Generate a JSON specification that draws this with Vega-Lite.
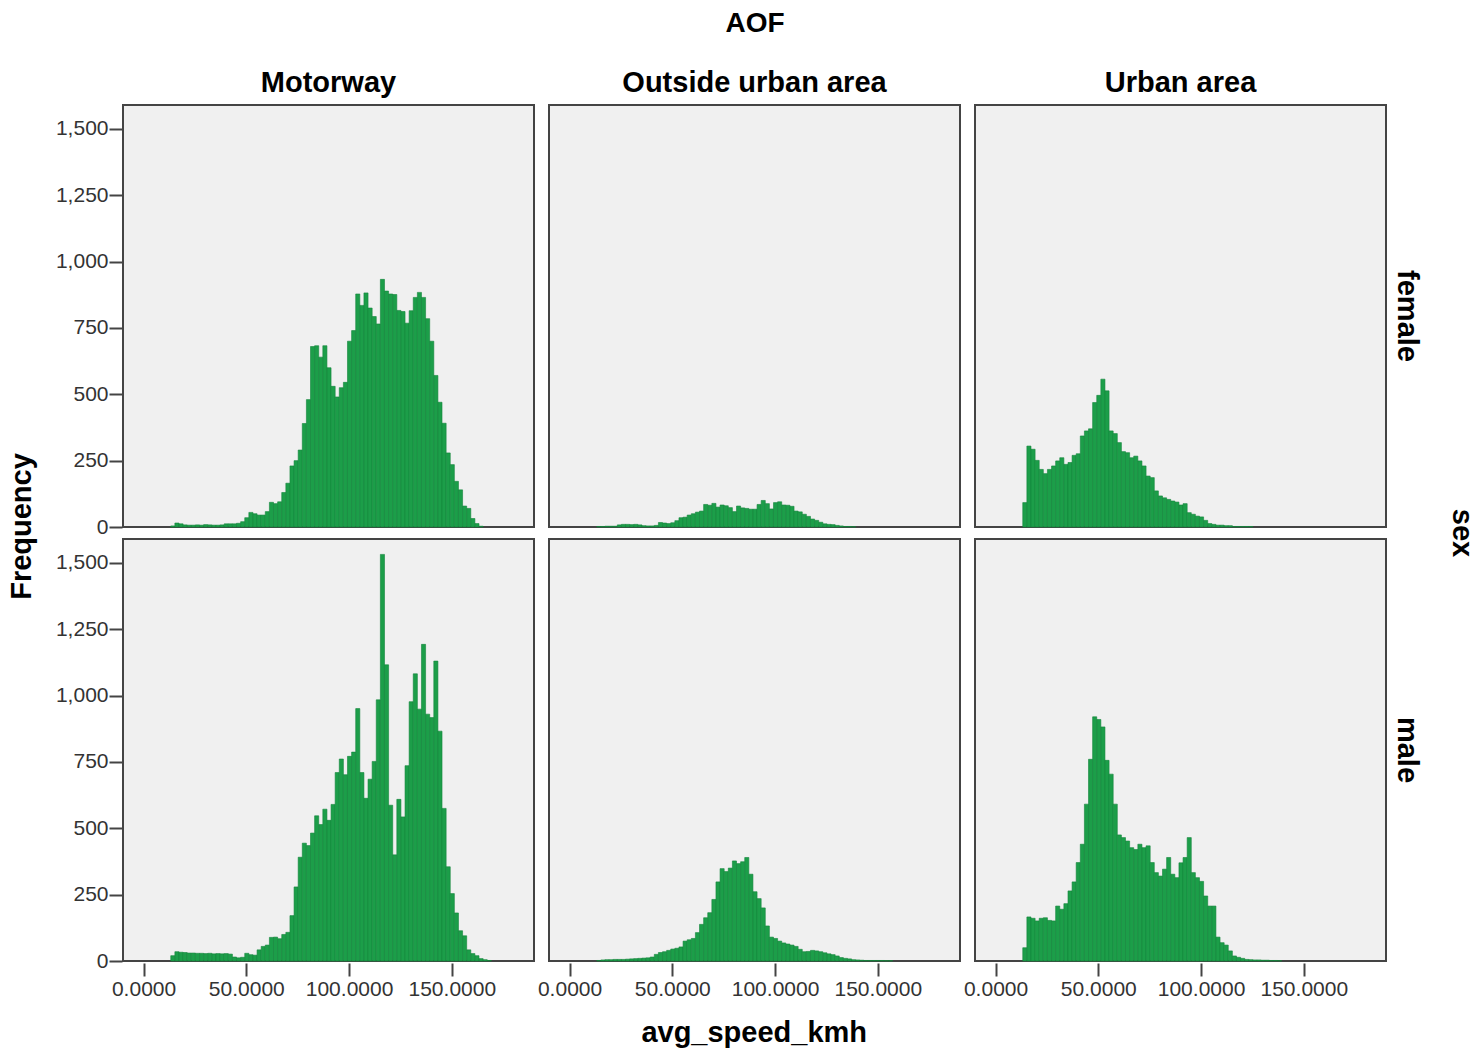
{
"$schema": "https://vega.github.io/schema/vega-lite/v6.json",
"padding": {"left": 8, "top": 10, "right": 0, "bottom": 0},
"title": {"text": "avg_speed_kmh", "orient": "bottom", "anchor": "middle", "fontSize": 29, "fontWeight": "bold", "font": "Liberation Sans", "color": "#000", "offset": 20, "dx": 12},
"vconcat": [{
"title": {"text": "Frequency", "orient": "left", "anchor": "middle", "fontSize": 29, "fontWeight": "bold", "font": "Liberation Sans", "color": "#000", "offset": 18, "dx": -22},
"data": {"values": [
{"AOF":"Motorway","sex":"female","speed":13,"n":4},{"AOF":"Motorway","sex":"female","speed":15,"n":15},{"AOF":"Motorway","sex":"female","speed":17,"n":12},{"AOF":"Motorway","sex":"female","speed":19,"n":8},{"AOF":"Motorway","sex":"female","speed":21,"n":7},{"AOF":"Motorway","sex":"female","speed":23,"n":7},{"AOF":"Motorway","sex":"female","speed":25,"n":8},{"AOF":"Motorway","sex":"female","speed":27,"n":7},{"AOF":"Motorway","sex":"female","speed":29,"n":9},{"AOF":"Motorway","sex":"female","speed":31,"n":8},{"AOF":"Motorway","sex":"female","speed":33,"n":7},{"AOF":"Motorway","sex":"female","speed":35,"n":7},{"AOF":"Motorway","sex":"female","speed":37,"n":8},{"AOF":"Motorway","sex":"female","speed":39,"n":12},{"AOF":"Motorway","sex":"female","speed":41,"n":12},{"AOF":"Motorway","sex":"female","speed":43,"n":12},{"AOF":"Motorway","sex":"female","speed":45,"n":14},{"AOF":"Motorway","sex":"female","speed":47,"n":20},{"AOF":"Motorway","sex":"female","speed":49,"n":35},{"AOF":"Motorway","sex":"female","speed":51,"n":55},{"AOF":"Motorway","sex":"female","speed":53,"n":50},{"AOF":"Motorway","sex":"female","speed":55,"n":45},{"AOF":"Motorway","sex":"female","speed":57,"n":45},{"AOF":"Motorway","sex":"female","speed":59,"n":58},{"AOF":"Motorway","sex":"female","speed":61,"n":93},{"AOF":"Motorway","sex":"female","speed":63,"n":88},{"AOF":"Motorway","sex":"female","speed":65,"n":95},{"AOF":"Motorway","sex":"female","speed":67,"n":130},{"AOF":"Motorway","sex":"female","speed":69,"n":165},{"AOF":"Motorway","sex":"female","speed":71,"n":230},{"AOF":"Motorway","sex":"female","speed":73,"n":250},{"AOF":"Motorway","sex":"female","speed":75,"n":290},{"AOF":"Motorway","sex":"female","speed":77,"n":390},{"AOF":"Motorway","sex":"female","speed":79,"n":480},{"AOF":"Motorway","sex":"female","speed":81,"n":680},{"AOF":"Motorway","sex":"female","speed":83,"n":683},{"AOF":"Motorway","sex":"female","speed":85,"n":640},{"AOF":"Motorway","sex":"female","speed":87,"n":683},{"AOF":"Motorway","sex":"female","speed":89,"n":600},{"AOF":"Motorway","sex":"female","speed":91,"n":530},{"AOF":"Motorway","sex":"female","speed":93,"n":490},{"AOF":"Motorway","sex":"female","speed":95,"n":525},{"AOF":"Motorway","sex":"female","speed":97,"n":545},{"AOF":"Motorway","sex":"female","speed":99,"n":700},{"AOF":"Motorway","sex":"female","speed":101,"n":740},{"AOF":"Motorway","sex":"female","speed":103,"n":878},{"AOF":"Motorway","sex":"female","speed":105,"n":835},{"AOF":"Motorway","sex":"female","speed":107,"n":882},{"AOF":"Motorway","sex":"female","speed":109,"n":825},{"AOF":"Motorway","sex":"female","speed":111,"n":793},{"AOF":"Motorway","sex":"female","speed":113,"n":765},{"AOF":"Motorway","sex":"female","speed":115,"n":933},{"AOF":"Motorway","sex":"female","speed":117,"n":889},{"AOF":"Motorway","sex":"female","speed":119,"n":878},{"AOF":"Motorway","sex":"female","speed":121,"n":876},{"AOF":"Motorway","sex":"female","speed":123,"n":816},{"AOF":"Motorway","sex":"female","speed":125,"n":812},{"AOF":"Motorway","sex":"female","speed":127,"n":768},{"AOF":"Motorway","sex":"female","speed":129,"n":815},{"AOF":"Motorway","sex":"female","speed":131,"n":865},{"AOF":"Motorway","sex":"female","speed":133,"n":884},{"AOF":"Motorway","sex":"female","speed":135,"n":865},{"AOF":"Motorway","sex":"female","speed":137,"n":785},{"AOF":"Motorway","sex":"female","speed":139,"n":700},{"AOF":"Motorway","sex":"female","speed":141,"n":571},{"AOF":"Motorway","sex":"female","speed":143,"n":470},{"AOF":"Motorway","sex":"female","speed":145,"n":391},{"AOF":"Motorway","sex":"female","speed":147,"n":279},{"AOF":"Motorway","sex":"female","speed":149,"n":235},{"AOF":"Motorway","sex":"female","speed":151,"n":172},{"AOF":"Motorway","sex":"female","speed":153,"n":140},{"AOF":"Motorway","sex":"female","speed":155,"n":79},{"AOF":"Motorway","sex":"female","speed":157,"n":70},{"AOF":"Motorway","sex":"female","speed":159,"n":32},{"AOF":"Motorway","sex":"female","speed":161,"n":13},{"AOF":"Motorway","sex":"female","speed":163,"n":3},
{"AOF":"Motorway","sex":"male","speed":13,"n":20},{"AOF":"Motorway","sex":"male","speed":15,"n":35},{"AOF":"Motorway","sex":"male","speed":17,"n":33},{"AOF":"Motorway","sex":"male","speed":19,"n":32},{"AOF":"Motorway","sex":"male","speed":21,"n":30},{"AOF":"Motorway","sex":"male","speed":23,"n":30},{"AOF":"Motorway","sex":"male","speed":25,"n":29},{"AOF":"Motorway","sex":"male","speed":27,"n":29},{"AOF":"Motorway","sex":"male","speed":29,"n":28},{"AOF":"Motorway","sex":"male","speed":31,"n":29},{"AOF":"Motorway","sex":"male","speed":33,"n":27},{"AOF":"Motorway","sex":"male","speed":35,"n":28},{"AOF":"Motorway","sex":"male","speed":37,"n":27},{"AOF":"Motorway","sex":"male","speed":39,"n":28},{"AOF":"Motorway","sex":"male","speed":41,"n":26},{"AOF":"Motorway","sex":"male","speed":43,"n":15},{"AOF":"Motorway","sex":"male","speed":45,"n":12},{"AOF":"Motorway","sex":"male","speed":47,"n":14},{"AOF":"Motorway","sex":"male","speed":49,"n":29},{"AOF":"Motorway","sex":"male","speed":51,"n":24},{"AOF":"Motorway","sex":"male","speed":53,"n":22},{"AOF":"Motorway","sex":"male","speed":55,"n":42},{"AOF":"Motorway","sex":"male","speed":57,"n":55},{"AOF":"Motorway","sex":"male","speed":59,"n":60},{"AOF":"Motorway","sex":"male","speed":61,"n":89},{"AOF":"Motorway","sex":"male","speed":63,"n":90},{"AOF":"Motorway","sex":"male","speed":65,"n":84},{"AOF":"Motorway","sex":"male","speed":67,"n":100},{"AOF":"Motorway","sex":"male","speed":69,"n":108},{"AOF":"Motorway","sex":"male","speed":71,"n":171},{"AOF":"Motorway","sex":"male","speed":73,"n":279},{"AOF":"Motorway","sex":"male","speed":75,"n":391},{"AOF":"Motorway","sex":"male","speed":77,"n":444},{"AOF":"Motorway","sex":"male","speed":79,"n":435},{"AOF":"Motorway","sex":"male","speed":81,"n":482},{"AOF":"Motorway","sex":"male","speed":83,"n":547},{"AOF":"Motorway","sex":"male","speed":85,"n":514},{"AOF":"Motorway","sex":"male","speed":87,"n":572},{"AOF":"Motorway","sex":"male","speed":89,"n":530},{"AOF":"Motorway","sex":"male","speed":91,"n":590},{"AOF":"Motorway","sex":"male","speed":93,"n":710},{"AOF":"Motorway","sex":"male","speed":95,"n":761},{"AOF":"Motorway","sex":"male","speed":97,"n":702},{"AOF":"Motorway","sex":"male","speed":99,"n":771},{"AOF":"Motorway","sex":"male","speed":101,"n":787},{"AOF":"Motorway","sex":"male","speed":103,"n":951},{"AOF":"Motorway","sex":"male","speed":105,"n":710},{"AOF":"Motorway","sex":"male","speed":107,"n":613},{"AOF":"Motorway","sex":"male","speed":109,"n":685},{"AOF":"Motorway","sex":"male","speed":111,"n":752},{"AOF":"Motorway","sex":"male","speed":113,"n":984},{"AOF":"Motorway","sex":"male","speed":115,"n":1532},{"AOF":"Motorway","sex":"male","speed":117,"n":1116},{"AOF":"Motorway","sex":"male","speed":119,"n":587},{"AOF":"Motorway","sex":"male","speed":121,"n":400},{"AOF":"Motorway","sex":"male","speed":123,"n":609},{"AOF":"Motorway","sex":"male","speed":125,"n":543},{"AOF":"Motorway","sex":"male","speed":127,"n":736},{"AOF":"Motorway","sex":"male","speed":129,"n":977},{"AOF":"Motorway","sex":"male","speed":131,"n":1082},{"AOF":"Motorway","sex":"male","speed":133,"n":949},{"AOF":"Motorway","sex":"male","speed":135,"n":1193},{"AOF":"Motorway","sex":"male","speed":137,"n":930},{"AOF":"Motorway","sex":"male","speed":139,"n":917},{"AOF":"Motorway","sex":"male","speed":141,"n":1130},{"AOF":"Motorway","sex":"male","speed":143,"n":866},{"AOF":"Motorway","sex":"male","speed":145,"n":575},{"AOF":"Motorway","sex":"male","speed":147,"n":355},{"AOF":"Motorway","sex":"male","speed":149,"n":254},{"AOF":"Motorway","sex":"male","speed":151,"n":181},{"AOF":"Motorway","sex":"male","speed":153,"n":114},{"AOF":"Motorway","sex":"male","speed":155,"n":95},{"AOF":"Motorway","sex":"male","speed":157,"n":42},{"AOF":"Motorway","sex":"male","speed":159,"n":28},{"AOF":"Motorway","sex":"male","speed":161,"n":20},{"AOF":"Motorway","sex":"male","speed":163,"n":9},{"AOF":"Motorway","sex":"male","speed":165,"n":5},{"AOF":"Motorway","sex":"male","speed":167,"n":2},
{"AOF":"Outside urban area","sex":"female","speed":13,"n":2},{"AOF":"Outside urban area","sex":"female","speed":15,"n":2},{"AOF":"Outside urban area","sex":"female","speed":17,"n":3},{"AOF":"Outside urban area","sex":"female","speed":19,"n":3},{"AOF":"Outside urban area","sex":"female","speed":21,"n":3},{"AOF":"Outside urban area","sex":"female","speed":23,"n":8},{"AOF":"Outside urban area","sex":"female","speed":25,"n":10},{"AOF":"Outside urban area","sex":"female","speed":27,"n":10},{"AOF":"Outside urban area","sex":"female","speed":29,"n":9},{"AOF":"Outside urban area","sex":"female","speed":31,"n":10},{"AOF":"Outside urban area","sex":"female","speed":33,"n":8},{"AOF":"Outside urban area","sex":"female","speed":35,"n":5},{"AOF":"Outside urban area","sex":"female","speed":37,"n":4},{"AOF":"Outside urban area","sex":"female","speed":39,"n":4},{"AOF":"Outside urban area","sex":"female","speed":41,"n":6},{"AOF":"Outside urban area","sex":"female","speed":43,"n":17},{"AOF":"Outside urban area","sex":"female","speed":45,"n":15},{"AOF":"Outside urban area","sex":"female","speed":47,"n":13},{"AOF":"Outside urban area","sex":"female","speed":49,"n":16},{"AOF":"Outside urban area","sex":"female","speed":51,"n":24},{"AOF":"Outside urban area","sex":"female","speed":53,"n":35},{"AOF":"Outside urban area","sex":"female","speed":55,"n":37},{"AOF":"Outside urban area","sex":"female","speed":57,"n":45},{"AOF":"Outside urban area","sex":"female","speed":59,"n":50},{"AOF":"Outside urban area","sex":"female","speed":61,"n":56},{"AOF":"Outside urban area","sex":"female","speed":63,"n":60},{"AOF":"Outside urban area","sex":"female","speed":65,"n":85},{"AOF":"Outside urban area","sex":"female","speed":67,"n":82},{"AOF":"Outside urban area","sex":"female","speed":69,"n":89},{"AOF":"Outside urban area","sex":"female","speed":71,"n":75},{"AOF":"Outside urban area","sex":"female","speed":73,"n":83},{"AOF":"Outside urban area","sex":"female","speed":75,"n":80},{"AOF":"Outside urban area","sex":"female","speed":77,"n":73},{"AOF":"Outside urban area","sex":"female","speed":79,"n":58},{"AOF":"Outside urban area","sex":"female","speed":81,"n":79},{"AOF":"Outside urban area","sex":"female","speed":83,"n":72},{"AOF":"Outside urban area","sex":"female","speed":85,"n":70},{"AOF":"Outside urban area","sex":"female","speed":87,"n":67},{"AOF":"Outside urban area","sex":"female","speed":89,"n":67},{"AOF":"Outside urban area","sex":"female","speed":91,"n":85},{"AOF":"Outside urban area","sex":"female","speed":93,"n":100},{"AOF":"Outside urban area","sex":"female","speed":95,"n":88},{"AOF":"Outside urban area","sex":"female","speed":97,"n":68},{"AOF":"Outside urban area","sex":"female","speed":99,"n":92},{"AOF":"Outside urban area","sex":"female","speed":101,"n":95},{"AOF":"Outside urban area","sex":"female","speed":103,"n":83},{"AOF":"Outside urban area","sex":"female","speed":105,"n":82},{"AOF":"Outside urban area","sex":"female","speed":107,"n":78},{"AOF":"Outside urban area","sex":"female","speed":109,"n":60},{"AOF":"Outside urban area","sex":"female","speed":111,"n":57},{"AOF":"Outside urban area","sex":"female","speed":113,"n":48},{"AOF":"Outside urban area","sex":"female","speed":115,"n":40},{"AOF":"Outside urban area","sex":"female","speed":117,"n":30},{"AOF":"Outside urban area","sex":"female","speed":119,"n":25},{"AOF":"Outside urban area","sex":"female","speed":121,"n":18},{"AOF":"Outside urban area","sex":"female","speed":123,"n":12},{"AOF":"Outside urban area","sex":"female","speed":125,"n":10},{"AOF":"Outside urban area","sex":"female","speed":127,"n":9},{"AOF":"Outside urban area","sex":"female","speed":129,"n":6},{"AOF":"Outside urban area","sex":"female","speed":131,"n":4},{"AOF":"Outside urban area","sex":"female","speed":133,"n":2},{"AOF":"Outside urban area","sex":"female","speed":135,"n":2},{"AOF":"Outside urban area","sex":"female","speed":137,"n":1},
{"AOF":"Outside urban area","sex":"male","speed":13,"n":2},{"AOF":"Outside urban area","sex":"male","speed":15,"n":4},{"AOF":"Outside urban area","sex":"male","speed":17,"n":5},{"AOF":"Outside urban area","sex":"male","speed":19,"n":5},{"AOF":"Outside urban area","sex":"male","speed":21,"n":6},{"AOF":"Outside urban area","sex":"male","speed":23,"n":6},{"AOF":"Outside urban area","sex":"male","speed":25,"n":6},{"AOF":"Outside urban area","sex":"male","speed":27,"n":7},{"AOF":"Outside urban area","sex":"male","speed":29,"n":8},{"AOF":"Outside urban area","sex":"male","speed":31,"n":9},{"AOF":"Outside urban area","sex":"male","speed":33,"n":10},{"AOF":"Outside urban area","sex":"male","speed":35,"n":11},{"AOF":"Outside urban area","sex":"male","speed":37,"n":12},{"AOF":"Outside urban area","sex":"male","speed":39,"n":15},{"AOF":"Outside urban area","sex":"male","speed":41,"n":25},{"AOF":"Outside urban area","sex":"male","speed":43,"n":32},{"AOF":"Outside urban area","sex":"male","speed":45,"n":35},{"AOF":"Outside urban area","sex":"male","speed":47,"n":40},{"AOF":"Outside urban area","sex":"male","speed":49,"n":45},{"AOF":"Outside urban area","sex":"male","speed":51,"n":48},{"AOF":"Outside urban area","sex":"male","speed":53,"n":53},{"AOF":"Outside urban area","sex":"male","speed":55,"n":75},{"AOF":"Outside urban area","sex":"male","speed":57,"n":80},{"AOF":"Outside urban area","sex":"male","speed":59,"n":85},{"AOF":"Outside urban area","sex":"male","speed":61,"n":107},{"AOF":"Outside urban area","sex":"male","speed":63,"n":138},{"AOF":"Outside urban area","sex":"male","speed":65,"n":163},{"AOF":"Outside urban area","sex":"male","speed":67,"n":182},{"AOF":"Outside urban area","sex":"male","speed":69,"n":232},{"AOF":"Outside urban area","sex":"male","speed":71,"n":298},{"AOF":"Outside urban area","sex":"male","speed":73,"n":348},{"AOF":"Outside urban area","sex":"male","speed":75,"n":337},{"AOF":"Outside urban area","sex":"male","speed":77,"n":350},{"AOF":"Outside urban area","sex":"male","speed":79,"n":377},{"AOF":"Outside urban area","sex":"male","speed":81,"n":367},{"AOF":"Outside urban area","sex":"male","speed":83,"n":374},{"AOF":"Outside urban area","sex":"male","speed":85,"n":390},{"AOF":"Outside urban area","sex":"male","speed":87,"n":327},{"AOF":"Outside urban area","sex":"male","speed":89,"n":261},{"AOF":"Outside urban area","sex":"male","speed":91,"n":235},{"AOF":"Outside urban area","sex":"male","speed":93,"n":200},{"AOF":"Outside urban area","sex":"male","speed":95,"n":132},{"AOF":"Outside urban area","sex":"male","speed":97,"n":90},{"AOF":"Outside urban area","sex":"male","speed":99,"n":85},{"AOF":"Outside urban area","sex":"male","speed":101,"n":75},{"AOF":"Outside urban area","sex":"male","speed":103,"n":68},{"AOF":"Outside urban area","sex":"male","speed":105,"n":64},{"AOF":"Outside urban area","sex":"male","speed":107,"n":60},{"AOF":"Outside urban area","sex":"male","speed":109,"n":55},{"AOF":"Outside urban area","sex":"male","speed":111,"n":44},{"AOF":"Outside urban area","sex":"male","speed":113,"n":35},{"AOF":"Outside urban area","sex":"male","speed":115,"n":36},{"AOF":"Outside urban area","sex":"male","speed":117,"n":40},{"AOF":"Outside urban area","sex":"male","speed":119,"n":38},{"AOF":"Outside urban area","sex":"male","speed":121,"n":35},{"AOF":"Outside urban area","sex":"male","speed":123,"n":31},{"AOF":"Outside urban area","sex":"male","speed":125,"n":27},{"AOF":"Outside urban area","sex":"male","speed":127,"n":24},{"AOF":"Outside urban area","sex":"male","speed":129,"n":19},{"AOF":"Outside urban area","sex":"male","speed":131,"n":13},{"AOF":"Outside urban area","sex":"male","speed":133,"n":10},{"AOF":"Outside urban area","sex":"male","speed":135,"n":8},{"AOF":"Outside urban area","sex":"male","speed":137,"n":5},{"AOF":"Outside urban area","sex":"male","speed":139,"n":4},{"AOF":"Outside urban area","sex":"male","speed":141,"n":3},{"AOF":"Outside urban area","sex":"male","speed":143,"n":2},{"AOF":"Outside urban area","sex":"male","speed":145,"n":2},{"AOF":"Outside urban area","sex":"male","speed":147,"n":2},{"AOF":"Outside urban area","sex":"male","speed":149,"n":2},{"AOF":"Outside urban area","sex":"male","speed":151,"n":2},{"AOF":"Outside urban area","sex":"male","speed":153,"n":1},{"AOF":"Outside urban area","sex":"male","speed":155,"n":1},
{"AOF":"Urban area","sex":"female","speed":13,"n":92},{"AOF":"Urban area","sex":"female","speed":15,"n":305},{"AOF":"Urban area","sex":"female","speed":17,"n":293},{"AOF":"Urban area","sex":"female","speed":19,"n":251},{"AOF":"Urban area","sex":"female","speed":21,"n":217},{"AOF":"Urban area","sex":"female","speed":23,"n":201},{"AOF":"Urban area","sex":"female","speed":25,"n":217},{"AOF":"Urban area","sex":"female","speed":27,"n":230},{"AOF":"Urban area","sex":"female","speed":29,"n":249},{"AOF":"Urban area","sex":"female","speed":31,"n":261},{"AOF":"Urban area","sex":"female","speed":33,"n":236},{"AOF":"Urban area","sex":"female","speed":35,"n":243},{"AOF":"Urban area","sex":"female","speed":37,"n":270},{"AOF":"Urban area","sex":"female","speed":39,"n":276},{"AOF":"Urban area","sex":"female","speed":41,"n":343},{"AOF":"Urban area","sex":"female","speed":43,"n":362},{"AOF":"Urban area","sex":"female","speed":45,"n":370},{"AOF":"Urban area","sex":"female","speed":47,"n":469},{"AOF":"Urban area","sex":"female","speed":49,"n":496},{"AOF":"Urban area","sex":"female","speed":51,"n":557},{"AOF":"Urban area","sex":"female","speed":53,"n":513},{"AOF":"Urban area","sex":"female","speed":55,"n":362},{"AOF":"Urban area","sex":"female","speed":57,"n":352},{"AOF":"Urban area","sex":"female","speed":59,"n":318},{"AOF":"Urban area","sex":"female","speed":61,"n":284},{"AOF":"Urban area","sex":"female","speed":63,"n":280},{"AOF":"Urban area","sex":"female","speed":65,"n":261},{"AOF":"Urban area","sex":"female","speed":67,"n":267},{"AOF":"Urban area","sex":"female","speed":69,"n":249},{"AOF":"Urban area","sex":"female","speed":71,"n":230},{"AOF":"Urban area","sex":"female","speed":73,"n":192},{"AOF":"Urban area","sex":"female","speed":75,"n":186},{"AOF":"Urban area","sex":"female","speed":77,"n":136},{"AOF":"Urban area","sex":"female","speed":79,"n":117},{"AOF":"Urban area","sex":"female","speed":81,"n":110},{"AOF":"Urban area","sex":"female","speed":83,"n":104},{"AOF":"Urban area","sex":"female","speed":85,"n":98},{"AOF":"Urban area","sex":"female","speed":87,"n":94},{"AOF":"Urban area","sex":"female","speed":89,"n":83},{"AOF":"Urban area","sex":"female","speed":91,"n":88},{"AOF":"Urban area","sex":"female","speed":93,"n":54},{"AOF":"Urban area","sex":"female","speed":95,"n":48},{"AOF":"Urban area","sex":"female","speed":97,"n":41},{"AOF":"Urban area","sex":"female","speed":99,"n":38},{"AOF":"Urban area","sex":"female","speed":101,"n":25},{"AOF":"Urban area","sex":"female","speed":103,"n":13},{"AOF":"Urban area","sex":"female","speed":105,"n":10},{"AOF":"Urban area","sex":"female","speed":107,"n":7},{"AOF":"Urban area","sex":"female","speed":109,"n":7},{"AOF":"Urban area","sex":"female","speed":111,"n":5},{"AOF":"Urban area","sex":"female","speed":113,"n":5},{"AOF":"Urban area","sex":"female","speed":115,"n":2},{"AOF":"Urban area","sex":"female","speed":117,"n":2},{"AOF":"Urban area","sex":"female","speed":119,"n":2},{"AOF":"Urban area","sex":"female","speed":121,"n":2},{"AOF":"Urban area","sex":"female","speed":123,"n":2},
{"AOF":"Urban area","sex":"male","speed":13,"n":50},{"AOF":"Urban area","sex":"male","speed":15,"n":166},{"AOF":"Urban area","sex":"male","speed":17,"n":161},{"AOF":"Urban area","sex":"male","speed":19,"n":151},{"AOF":"Urban area","sex":"male","speed":21,"n":161},{"AOF":"Urban area","sex":"male","speed":23,"n":163},{"AOF":"Urban area","sex":"male","speed":25,"n":153},{"AOF":"Urban area","sex":"male","speed":27,"n":151},{"AOF":"Urban area","sex":"male","speed":29,"n":207},{"AOF":"Urban area","sex":"male","speed":31,"n":195},{"AOF":"Urban area","sex":"male","speed":33,"n":216},{"AOF":"Urban area","sex":"male","speed":35,"n":264},{"AOF":"Urban area","sex":"male","speed":37,"n":298},{"AOF":"Urban area","sex":"male","speed":39,"n":371},{"AOF":"Urban area","sex":"male","speed":41,"n":440},{"AOF":"Urban area","sex":"male","speed":43,"n":591},{"AOF":"Urban area","sex":"male","speed":45,"n":760},{"AOF":"Urban area","sex":"male","speed":47,"n":920},{"AOF":"Urban area","sex":"male","speed":49,"n":910},{"AOF":"Urban area","sex":"male","speed":51,"n":882},{"AOF":"Urban area","sex":"male","speed":53,"n":756},{"AOF":"Urban area","sex":"male","speed":55,"n":704},{"AOF":"Urban area","sex":"male","speed":57,"n":591},{"AOF":"Urban area","sex":"male","speed":59,"n":475},{"AOF":"Urban area","sex":"male","speed":61,"n":465},{"AOF":"Urban area","sex":"male","speed":63,"n":452},{"AOF":"Urban area","sex":"male","speed":65,"n":427},{"AOF":"Urban area","sex":"male","speed":67,"n":420},{"AOF":"Urban area","sex":"male","speed":69,"n":440},{"AOF":"Urban area","sex":"male","speed":71,"n":427},{"AOF":"Urban area","sex":"male","speed":73,"n":434},{"AOF":"Urban area","sex":"male","speed":75,"n":371},{"AOF":"Urban area","sex":"male","speed":77,"n":333},{"AOF":"Urban area","sex":"male","speed":79,"n":320},{"AOF":"Urban area","sex":"male","speed":81,"n":346},{"AOF":"Urban area","sex":"male","speed":83,"n":390},{"AOF":"Urban area","sex":"male","speed":85,"n":327},{"AOF":"Urban area","sex":"male","speed":87,"n":314},{"AOF":"Urban area","sex":"male","speed":89,"n":370},{"AOF":"Urban area","sex":"male","speed":91,"n":390},{"AOF":"Urban area","sex":"male","speed":93,"n":465},{"AOF":"Urban area","sex":"male","speed":95,"n":333},{"AOF":"Urban area","sex":"male","speed":97,"n":314},{"AOF":"Urban area","sex":"male","speed":99,"n":300},{"AOF":"Urban area","sex":"male","speed":101,"n":245},{"AOF":"Urban area","sex":"male","speed":103,"n":207},{"AOF":"Urban area","sex":"male","speed":105,"n":207},{"AOF":"Urban area","sex":"male","speed":107,"n":90},{"AOF":"Urban area","sex":"male","speed":109,"n":69},{"AOF":"Urban area","sex":"male","speed":111,"n":60},{"AOF":"Urban area","sex":"male","speed":113,"n":38},{"AOF":"Urban area","sex":"male","speed":115,"n":19},{"AOF":"Urban area","sex":"male","speed":117,"n":14},{"AOF":"Urban area","sex":"male","speed":119,"n":10},{"AOF":"Urban area","sex":"male","speed":121,"n":6},{"AOF":"Urban area","sex":"male","speed":123,"n":5},{"AOF":"Urban area","sex":"male","speed":125,"n":4},{"AOF":"Urban area","sex":"male","speed":127,"n":4},{"AOF":"Urban area","sex":"male","speed":129,"n":3},{"AOF":"Urban area","sex":"male","speed":131,"n":3},{"AOF":"Urban area","sex":"male","speed":133,"n":2},{"AOF":"Urban area","sex":"male","speed":135,"n":2},{"AOF":"Urban area","sex":"male","speed":137,"n":1}
]},
"facet": {
  "column": {"field": "AOF", "type": "nominal", "title": "AOF",
    "header": {"labelOrient": "top", "titleOrient": "top", "labelFontSize": 29, "labelFontWeight": "bold", "labelColor": "#000", "labelFont": "Liberation Sans", "labelPadding": 6, "titleFontSize": 28, "titleFontWeight": "bold", "titleColor": "#000", "titleFont": "Liberation Sans", "titlePadding": 21}},
  "row": {"field": "sex", "type": "nominal", "title": "sex",
    "header": {"labelOrient": "right", "titleOrient": "right", "labelAngle": 90, "labelFontSize": 29, "labelFontWeight": "bold", "labelColor": "#000", "labelFont": "Liberation Sans", "labelPadding": 5, "titleAngle": 90, "titleFontSize": 29, "titleFontWeight": "bold", "titleColor": "#000", "titleFont": "Liberation Sans", "titlePadding": 16}}
},
"spacing": {"column": 13, "row": 9},
"spec": {
  "width": 411, "height": 422,
  "mark": {"type": "bar", "fill": "#1c9e49", "stroke": "#13853b", "strokeWidth": 0.6, "binSpacing": 0},
  "encoding": {
    "x": {"field": "speed", "type": "quantitative", "bin": {"binned": true, "step": 2},
      "scale": {"domain": [-10, 190], "nice": false, "zero": false},
      "axis": {"title": null, "values": [0, 50, 100, 150], "format": ".4f", "labelPadding": 2}},
    "y": {"field": "n", "type": "quantitative",
      "scale": {"domain": [0, 1590], "nice": false},
      "axis": {"title": null, "values": [0, 250, 500, 750, 1000, 1250, 1500], "format": ",d", "labelPadding": 1}}
  }
}
}],
"config": {
  "font": "Liberation Sans",
  "view": {"fill": "#f0f0f0", "stroke": "#444444", "strokeWidth": 2},
  "axis": {"labelFont": "Liberation Sans", "labelFontSize": 21, "labelColor": "#333333", "tickColor": "#444444", "tickSize": 13, "tickWidth": 2, "domain": false, "grid": false}
}
}
